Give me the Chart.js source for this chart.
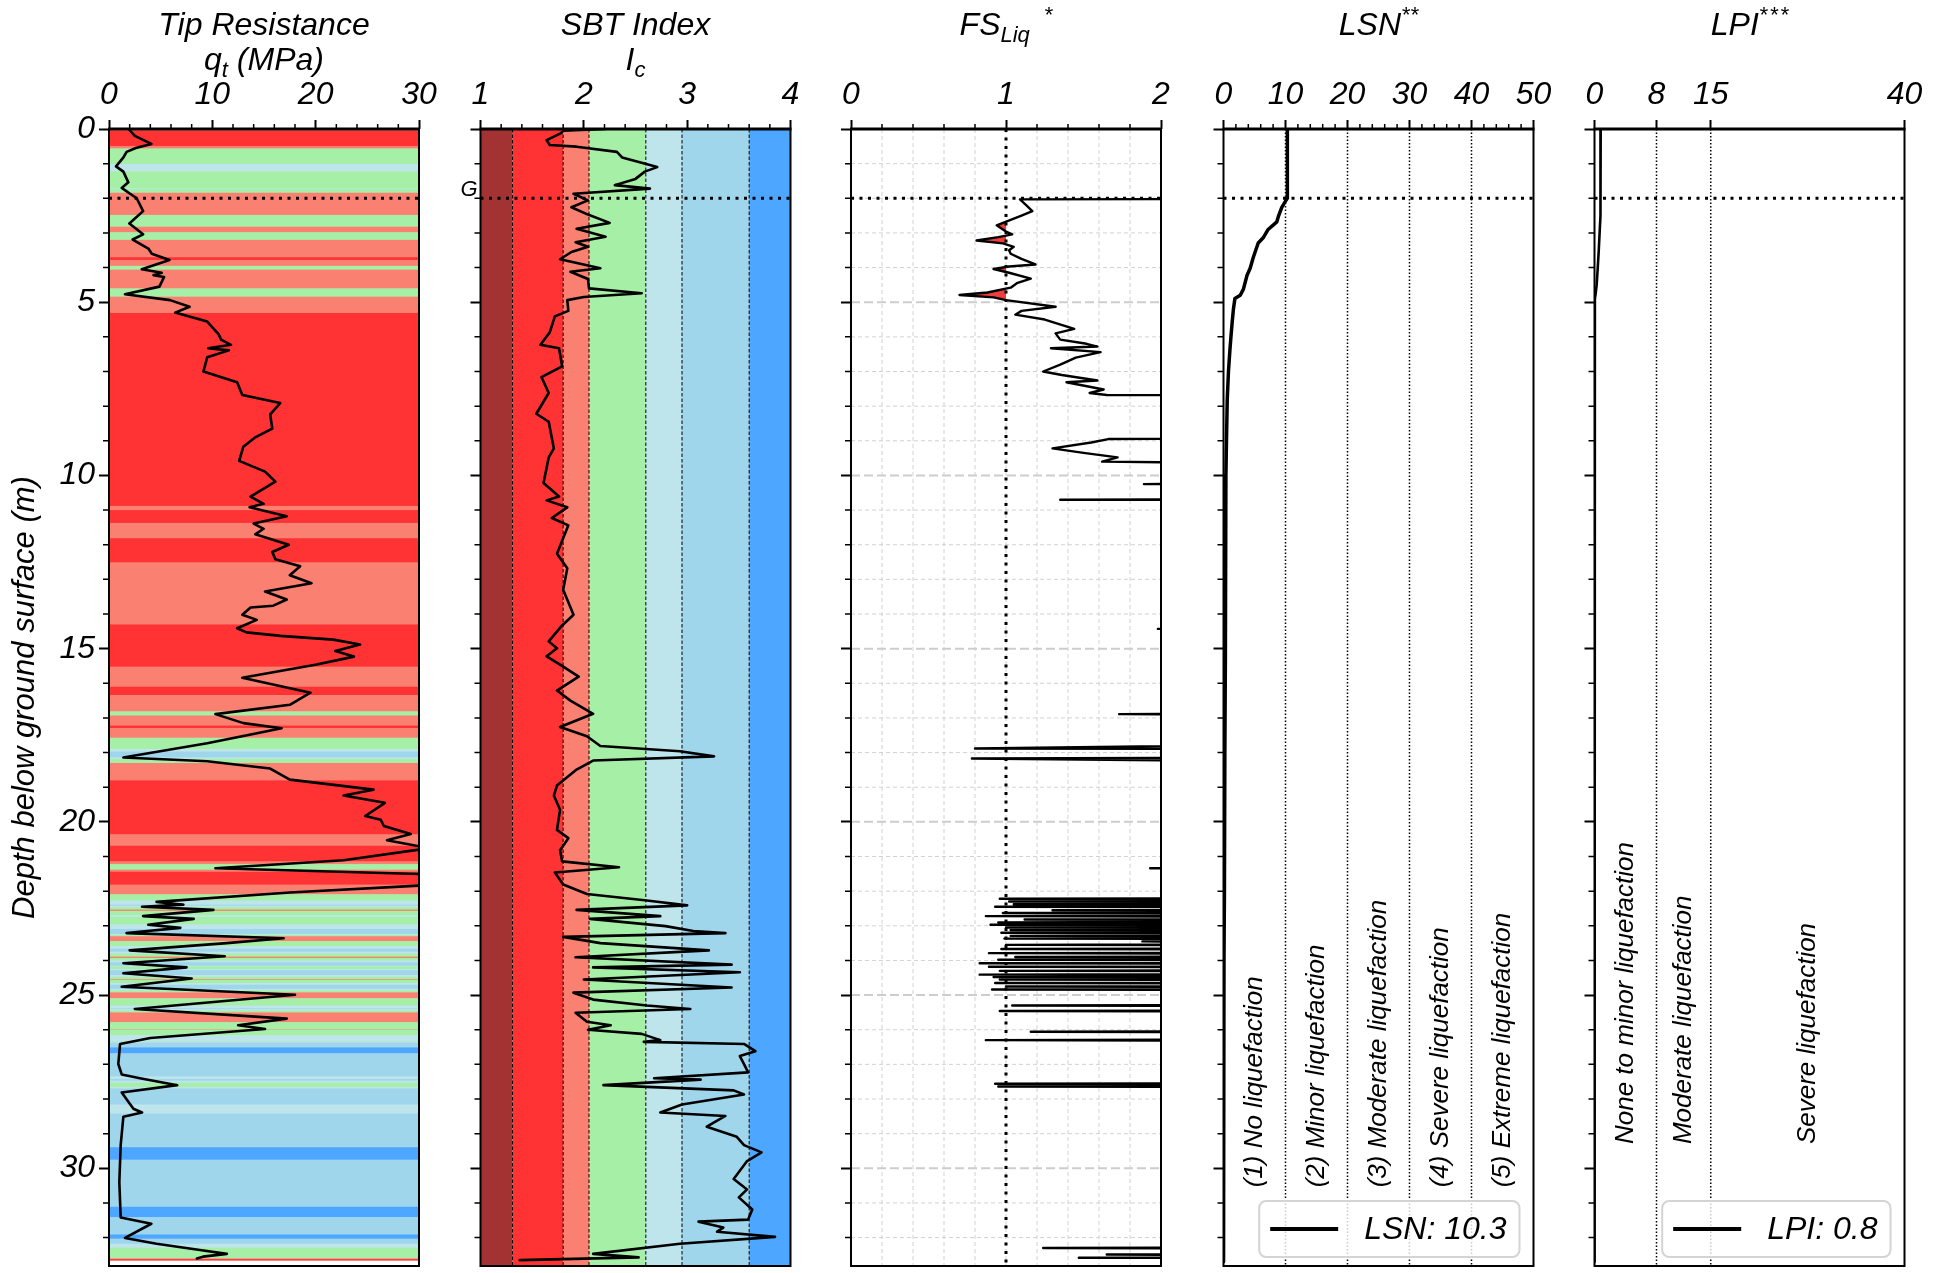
<!DOCTYPE html>
<html>
<head>
<meta charset="utf-8">
<script src="https://cdn.jsdelivr.net/npm/chart.js@4.4.1/dist/chart.umd.min.js"></script>
<style>
  html, body { margin: 0; padding: 0; background: #fff; overflow: hidden; }
  #wrap { position: relative; width: 1942px; height: 1273px; }
  #wrap canvas { position: absolute; left: 0; top: 0; }
</style>
</head>
<body>
<div id="wrap">
  <canvas id="p0" width="1942" height="1273"></canvas>
  <canvas id="p1" width="1942" height="1273"></canvas>
  <canvas id="p2" width="1942" height="1273"></canvas>
  <canvas id="p3" width="1942" height="1273"></canvas>
  <canvas id="p4" width="1942" height="1273"></canvas>
</div>
<script>
'use strict';

// ---- CPT profile data (depth in m) ----
const qtDepth = [0.0, 0.2, 0.43, 0.55, 0.66, 0.82, 1.08, 1.23, 1.54, 1.70, 1.87, 2.0, 2.37, 2.73, 3.04, 3.19, 3.45, 3.6, 3.78, 4.05,
  4.15, 4.22, 4.27, 4.55, 4.77, 4.94, 5.13, 5.3, 5.56, 5.92, 6.08, 6.23, 6.33, 6.39, 6.59, 7.0, 7.31, 7.68, 7.91, 8.24,
  8.65, 8.91, 9.17, 9.58, 9.89, 10.18, 10.61, 10.82, 10.92, 11.18, 11.39, 11.54, 11.7, 12.0, 12.21, 12.42, 12.62, 12.88, 13.11, 13.35,
  13.58, 13.76, 13.81, 14.02, 14.17, 14.41, 14.53, 14.63, 14.74, 14.88, 15.07, 15.23, 15.46, 15.84, 16.27, 16.62, 16.89, 17.15, 17.30, 17.52,
  17.73, 18.14, 18.25, 18.46, 18.78, 19.07, 19.24, 19.45, 19.83, 19.94, 20.12, 20.35, 20.53, 20.76, 21.11, 21.34, 21.52, 21.81, 22.04, 22.31,
  22.39, 22.45, 22.54, 22.72, 22.8, 22.97, 23.06, 23.21, 23.36, 23.5, 23.71, 23.88, 24.08, 24.2, 24.37, 24.52, 24.76, 24.99, 25.4, 25.68,
  25.87, 25.98, 26.24, 26.41, 26.99, 27.29, 27.4, 27.6, 27.81, 28.28, 28.39, 28.51, 29.33, 30.4, 31.42, 31.6, 32.01, 32.18, 32.36, 32.47,
  32.55, 32.6];
const qtValue = [1.9, 2.5, 4.1, 2.6, 1.7, 1.4, 0.68, 1.39, 1.87, 1.23, 2.04, 2.68, 3.3, 1.97, 3.3, 2.29, 3.81, 4.14, 5.85, 3.17,
  5.1, 4.3, 5.33, 4.88, 1.55, 5.9, 7.8, 6.4, 9.5, 10.6, 10.85, 11.8, 9.6, 11.6, 9.5, 9.14, 12.4, 12.9, 16.57, 15.6,
  15.8, 14.1, 13.0, 12.6, 15.1, 16.1, 13.7, 14.96, 13.6, 17.2, 14.0, 14.96, 14.15, 17.4, 15.8, 16.1, 18.5, 17.5, 19.6, 15.1,
  17.2, 15.9, 13.7, 12.9, 14.3, 12.4, 13.3, 16.6, 21.7, 24.3, 21.9, 23.7, 20.1, 12.9, 19.5, 17.5, 10.3, 13.0, 16.7, 13.0,
  9.5, 1.39, 9.5, 15.6, 17.5, 25.6, 22.7, 26.7, 24.8, 26.3, 26.6, 29.2, 26.9, 31.0, 22.7, 10.3, 32.0, 32.0, 17.5, 4.6,
  7.2, 3.2, 10.1, 3.3, 8.2, 3.8, 6.9, 1.7, 16.9, 11.4, 2.0, 11.2, 1.39, 7.5, 1.39, 8.0, 1.23, 18.0, 2.5, 17.2,
  12.5, 15.1, 4.0, 1.07, 0.9, 1.23, 3.0, 6.6, 1.23, 2.36, 3.2, 1.39, 1.13, 1.0, 1.13, 4.1, 1.55, 4.6, 8.8, 11.4,
  9.1, 8.5];

const icDepth = [0.0, 0.05, 0.12, 0.32, 0.46, 0.51, 0.66, 0.82, 0.97, 1.1, 1.23, 1.44, 1.62, 1.72, 1.87, 2.06, 2.26, 2.47, 2.71, 2.88,
  3.11, 3.27, 3.4, 3.55, 3.76, 4.02, 4.12, 4.33, 4.6, 4.74, 4.85, 4.94, 5.25, 5.41, 5.87, 6.23, 6.33, 6.85, 7.16, 7.62,
  8.22, 8.45, 9.22, 9.48, 10.22, 10.61, 10.72, 10.92, 11.23, 11.44, 12.26, 12.68, 13.3, 14.02, 14.33, 14.79, 14.99, 15.22, 15.46, 15.81,
  16.21, 16.5, 16.88, 17.26, 17.53, 17.81, 17.96, 18.11, 18.23, 18.49, 18.95, 19.24, 19.65, 20.23, 20.47, 20.82, 21.14, 21.31, 21.46, 21.81,
  22.08, 22.27, 22.41, 22.54, 22.72, 22.8, 23.01, 23.15, 23.21, 23.32, 23.5, 23.71, 23.91, 24.12, 24.2, 24.34, 24.55, 24.78, 24.93, 25.13,
  25.3, 25.4, 25.51, 25.77, 25.87, 26.0, 26.12, 26.3, 26.35, 26.41, 26.62, 26.76, 27.05, 27.23, 27.4, 27.44, 27.6, 27.75, 27.87, 28.16,
  28.39, 28.49, 28.8, 29.09, 29.33, 29.54, 29.79, 30.31, 30.61, 30.84, 31.19, 31.48, 31.54, 31.71, 31.83, 31.98, 32.18, 32.47, 32.57, 32.65];
const icValue = [2.21, 1.80, 1.78, 1.64, 1.67, 1.93, 2.32, 2.37, 2.55, 2.71, 2.59, 2.50, 2.30, 2.64, 1.90, 2.04, 1.88, 2.04, 2.25, 1.93,
  2.21, 1.92, 2.04, 1.88, 1.77, 2.16, 1.87, 2.04, 2.05, 2.56, 2.0, 1.84, 1.85, 1.72, 1.67, 1.58, 1.76, 1.79, 1.59, 1.66,
  1.54, 1.66, 1.71, 1.66, 1.61, 1.76, 1.64, 1.84, 1.69, 1.85, 1.74, 1.84, 1.80, 1.90, 1.79, 1.66, 1.74, 1.64, 1.77, 1.95,
  1.74, 1.87, 2.09, 1.77, 2.03, 2.16, 2.93, 3.26, 2.09, 1.93, 1.74, 1.71, 1.77, 1.74, 1.85, 1.77, 1.79, 2.34, 1.72, 1.80,
  2.03, 2.61, 3.0, 1.93, 2.74, 2.06, 2.79, 3.06, 3.37, 1.80, 2.16, 3.21, 1.92, 3.43, 2.09, 3.51, 2.0, 3.43, 1.90, 2.09,
  2.61, 3.03, 1.92, 2.03, 2.26, 2.04, 2.56, 2.74, 2.58, 3.55, 3.66, 3.51, 3.56, 3.59, 2.68, 3.13, 2.19, 3.45, 3.55, 2.95,
  2.74, 3.37, 3.19, 3.48, 3.55, 3.72, 3.58, 3.45, 3.58, 3.50, 3.63, 3.59, 3.11, 3.35, 3.29, 3.85, 2.93, 2.09, 2.53, 1.38];

// factor of safety against liquefaction; 5 stands for values beyond the plotted range
const fsDepth = [2.00, 2.03, 2.2, 2.37, 2.5, 2.62, 2.78, 2.9, 2.96, 3.04, 3.12, 3.22, 3.3, 3.4, 3.5, 3.6, 3.75, 3.91, 3.97, 4.04,
  4.15, 4.32, 4.45, 4.58, 4.72, 4.79, 4.86, 4.94, 5.13, 5.25, 5.36, 5.5, 5.77, 5.9, 6.08, 6.2, 6.28, 6.33, 6.44, 6.6,
  6.8, 7.0, 7.1, 7.26, 7.31, 7.52, 7.62, 7.68, 7.71, 8.91, 8.95, 9.05, 9.22, 9.35, 9.48, 9.6, 9.79, 10.215, 10.25, 10.285,
  10.665, 10.70, 10.735, 14.395, 14.43, 14.465, 16.855, 16.89, 16.925, 17.65, 17.88, 17.915, 18.12, 18.17, 18.35, 21.305, 21.34, 21.375,
  22.185, 22.22, 22.255, 22.265, 22.30, 22.335, 22.345, 22.38, 22.41, 22.42, 22.45, 22.485,
  22.515, 22.55, 22.585, 22.595, 22.63, 22.665, 22.685, 22.72, 22.755, 22.785, 22.82, 22.855,
  22.865, 22.90, 22.93, 22.94, 22.97, 23.005, 23.015, 23.05, 23.08, 23.09, 23.12, 23.155,
  23.165, 23.20, 23.235, 23.255, 23.29, 23.325, 23.335, 23.37, 23.405, 23.415, 23.45, 23.485,
  23.515, 23.55, 23.585, 23.635, 23.67, 23.705, 23.755, 23.79, 23.825, 23.865, 23.90, 23.935,
  23.945, 23.98, 24.015, 24.045, 24.08, 24.115, 24.145, 24.18, 24.215, 24.265, 24.30, 24.335,
  24.375, 24.41, 24.44, 24.45, 24.48, 24.51, 24.52, 24.55, 24.585, 24.615, 24.65, 24.685,
  24.715, 24.75, 24.785, 24.805, 24.84, 24.875, 25.265, 25.30, 25.335, 25.425, 25.46, 25.495,
  26.025, 26.06, 26.095, 26.265, 26.30, 26.335, 27.525, 27.56, 27.595, 27.605, 27.64, 27.675,
  32.265, 32.30, 32.335, 32.455, 32.49, 32.525, 32.545, 32.58, 32.615, 32.8];
const fsValue = [5, 1.09, 1.13, 1.17, 1.1, 1.03, 0.94, 0.98, 1.0, 1.04, 0.95, 0.81, 0.98, 1.05, 1.02, 1.03, 1.1, 1.19, 1.02, 0.92,
  1.02, 1.16, 1.07, 1.03, 0.88, 0.70, 0.92, 1.0, 1.32, 1.1, 1.06, 1.25, 1.44, 1.32, 1.35, 1.52, 1.59, 1.29, 1.61, 1.45,
  1.35, 1.24, 1.36, 1.59, 1.39, 1.63, 1.54, 1.65, 5, 5, 1.66, 1.55, 1.30, 1.5, 1.72, 1.62, 5, 5, 1.89, 5,
  5, 1.35, 5, 5, 1.98, 5, 5, 1.73, 5, 5, 0.80, 5, 5, 0.78, 5, 5, 1.93, 5,
  5, 0.96, 5, 5, 1.02, 5, 5, 1.05, 5, 5, 0.93, 5,
  5, 1.30, 5, 5, 0.98, 5, 5, 0.87, 5, 5, 1.12, 5,
  5, 0.95, 5, 5, 0.90, 5, 5, 1.00, 5, 5, 1.03, 5,
  5, 0.97, 5, 5, 1.03, 5, 5, 0.99, 5, 5, 1.88, 5,
  5, 1.00, 5, 5, 0.97, 5, 5, 0.89, 5, 5, 1.06, 5,
  5, 0.95, 5, 5, 0.83, 5, 5, 0.89, 5, 5, 0.96, 5,
  5, 0.83, 5, 5, 0.92, 5, 5, 0.96, 5, 5, 0.93, 5,
  5, 1.00, 5, 5, 0.91, 5, 5, 1.04, 5, 5, 0.96, 5,
  5, 1.16, 5, 5, 0.87, 5, 5, 0.93, 5, 5, 0.95, 5,
  5, 1.24, 5, 5, 1.65, 5, 5, 1.47, 5, 5];

const lsnDepth = [0, 2.0, 2.06, 2.26, 2.5, 2.68, 2.9, 3.14, 3.29, 3.5, 3.71, 4.02, 4.22, 4.63, 4.8, 4.89, 5.2, 5.56, 6.0, 6.39,
  7.0, 7.83, 9.0, 10.0, 12.0, 15.25, 18.0, 22.0, 24.0, 25.5, 26.5, 32.7];
const lsnValue = [10.3, 10.3, 10.08, 9.4, 8.9, 8.6, 7.2, 6.4, 5.6, 5.2, 4.8, 4.3, 3.8, 3.2, 2.7, 1.84, 1.6, 1.41, 1.2, 1.03,
  0.8, 0.6, 0.48, 0.39, 0.33, 0.28, 0.22, 0.15, 0.08, 0.02, 0, 0];

const lpiDepth = [0, 2.0, 2.5, 3.0, 3.5, 4.0, 4.5, 4.75, 4.9, 10, 20, 26, 32.7];
const lpiValue = [0.8, 0.8, 0.74, 0.66, 0.55, 0.42, 0.28, 0.15, 0.05, 0.03, 0.01, 0, 0];

// ---- axes and classes ----
const qtTicks = [0, 10, 20, 30];
const icTicks = [1, 2, 3, 4];
const fsTicks = [0, 1, 2];
const lsnTicks = [0, 10, 20, 30, 40, 50];
const lpiTicks = [0, 8, 15, 40];
const depthTicks = [0, 5, 10, 15, 20, 25, 30];

const gwDepth = 2.0;
const icBounds = [1.31, 1.80, 2.05, 2.60, 2.95, 3.60];
const icColors = ['#A33232', '#FF3333', '#FA8072', '#A6EFA6', '#BFE5EC', '#A0D6EC', '#4DA6FF'];
const lsnBounds = [10, 20, 30, 40];
const lsnLabels = ['(1) No liquefaction', '(2) Minor liquefaction', '(3) Moderate liquefaction',
  '(4) Severe liquefaction', '(5) Extreme liquefaction'];
const lsnLabelAt = [5, 15, 25, 35, 45];
const lpiBounds = [8, 15];
const lpiLabels = ['None to minor liquefaction', 'Moderate liquefaction', 'Severe liquefaction'];
const lpiLabelAt = [4, 11.5, 27.5];

// ---- layout ----
const W = 1942, H = 1273;
const PLOT_TOP = 129, PLOT_BOTTOM = 1266, PLOT_W = 310;
const PANEL_LEFT = [109, 480.5, 851, 1223.5, 1594.5];
const X_AXIS_H = 50;
const DEPTH_MAX = 32.82;
const FAMILY = "'Liberation Sans', Arial, Helvetica, sans-serif";
const tickFont = { family: FAMILY, size: 32, style: 'italic' };

function font(size) { return 'italic ' + size + 'px ' + FAMILY; }

function pts(depths, values) {
  return depths.map((d, i) => ({ x: values[i], y: d }));
}

// part of the FS profile lying left of FS = 1, with the crossing points added
function belowOne(depths, values) {
  const out = [];
  for (let i = 0; i < depths.length; i++) {
    out.push({ x: Math.min(values[i], 1), y: depths[i] });
    if (i + 1 < depths.length) {
      const v0 = values[i], v1 = values[i + 1];
      if ((v0 - 1) * (v1 - 1) < 0) {
        const t = (1 - v0) / (v1 - v0);
        out.push({ x: 1, y: depths[i] + t * (depths[i + 1] - depths[i]) });
      }
    }
  }
  return out;
}

// soil behaviour type class of an Ic value
function icClass(v) {
  let k = 0;
  while (k < icBounds.length && v >= icBounds[k]) k++;
  return k;
}

function icAt(d) {
  for (let i = 1; i < icDepth.length; i++) {
    if (d <= icDepth[i]) {
      const t = (d - icDepth[i - 1]) / (icDepth[i] - icDepth[i - 1]);
      return icValue[i - 1] + t * (icValue[i] - icValue[i - 1]);
    }
  }
  return icValue[icValue.length - 1];
}

// layers for the qt background, classified from the Ic profile
function soilBands() {
  const step = 0.01;
  const end = icDepth[icDepth.length - 1];
  const bands = [];
  for (let n = 0; n * step < end; n++) {
    const top = n * step, bottom = Math.min(end, top + step);
    const k = icClass(icAt(top + step / 2));
    const last = bands[bands.length - 1];
    if (last && last.k === k) last.bottom = bottom;
    else bands.push({ top: top, bottom: bottom, k: k });
  }
  return bands;
}

function dashedLine(ctx, x1, y1, x2, y2, width, dash, color) {
  ctx.save();
  ctx.strokeStyle = color || '#000';
  ctx.lineWidth = width;
  ctx.setLineDash(dash);
  ctx.lineCap = 'butt';
  ctx.beginPath();
  ctx.moveTo(x1, y1);
  ctx.lineTo(x2, y2);
  ctx.stroke();
  ctx.restore();
}

function groundWater(ctx, a, y) {
  const py = y.getPixelForValue(gwDepth);
  dashedLine(ctx, a.left, py, a.right, py, 3, [3, 5.5]);
}

function classLines(ctx, a, x, bounds) {
  bounds.forEach(b => {
    const px = x.getPixelForValue(b);
    dashedLine(ctx, px, a.top, px, a.bottom, 1.5, [1.5, 2]);
  });
}

function rotatedLabels(ctx, x, y, labels, at, depth) {
  ctx.save();
  ctx.fillStyle = '#000';
  ctx.font = font(26);
  ctx.textAlign = 'left';
  ctx.textBaseline = 'middle';
  labels.forEach((t, k) => {
    ctx.save();
    ctx.translate(x.getPixelForValue(at[k]), y.getPixelForValue(depth));
    ctx.rotate(-Math.PI / 2);
    ctx.fillText(t, 0, 0);
    ctx.restore();
  });
  ctx.restore();
}

function legendBox(ctx, a, text) {
  ctx.save();
  ctx.font = font(32);
  const tw = ctx.measureText(text).width;
  const w = 11 + 68 + 26 + tw + 13, h = 56;
  const right = a.right - 14, bottom = a.bottom - 9;
  const left = right - w, top = bottom - h;
  ctx.beginPath();
  ctx.roundRect(left, top, w, h, 7);
  ctx.fillStyle = 'rgba(255,255,255,0.8)';
  ctx.fill();
  ctx.strokeStyle = '#d4d4d4';
  ctx.lineWidth = 2;
  ctx.stroke();
  const cy = top + h / 2;
  ctx.strokeStyle = '#000';
  ctx.lineWidth = 4;
  ctx.beginPath();
  ctx.moveTo(left + 11, cy);
  ctx.lineTo(left + 79, cy);
  ctx.stroke();
  ctx.fillStyle = '#000';
  ctx.textAlign = 'left';
  ctx.textBaseline = 'middle';
  ctx.fillText(text, left + 105, cy + 1);
  ctx.restore();
}

function drawParts(ctx, parts, cx, base) {
  let total = 0;
  parts.forEach(p => {
    ctx.font = font(p.size);
    p.w = ctx.measureText(p.text).width;
    total += p.w + (p.gap || 0);
  });
  let px = cx - total / 2;
  ctx.fillStyle = '#000';
  ctx.textAlign = 'left';
  ctx.textBaseline = 'alphabetic';
  parts.forEach(p => {
    px += p.gap || 0;
    ctx.font = font(p.size);
    ctx.fillText(p.text, px, base + (p.dy || 0));
    px += p.w;
  });
}

const TITLES = [
  [[{ text: 'Tip Resistance', size: 32 }],
   [{ text: 'q', size: 32 }, { text: 't', size: 22, dy: 7 }, { text: ' (MPa)', size: 32 }]],
  [[{ text: 'SBT Index', size: 32 }],
   [{ text: 'I', size: 32 }, { text: 'c', size: 22, dy: 7 }]],
  [[{ text: 'FS', size: 32 }, { text: 'Liq', size: 22, dy: 7 }, { text: '*', size: 22, dy: -13, gap: 14 }]],
  [[{ text: 'LSN', size: 32 }, { text: '**', size: 22, dy: -13 }]],
  [[{ text: 'LPI', size: 32 }, { text: '*\u200A*\u200A*', size: 22, dy: -13 }]]
];

function decor(i, cfg) {
  return {
    id: 'decor' + i,
    beforeDatasetsDraw(chart) {
      const { ctx, chartArea: a, scales: { x, y } } = chart;
      ctx.save();
      if (cfg.background) cfg.background(ctx, a, x, y);
      ctx.restore();
    },
    afterDatasetsDraw(chart) {
      const { ctx, chartArea: a, scales: { x, y } } = chart;
      ctx.save();
      groundWater(ctx, a, y);
      if (cfg.overlay) cfg.overlay(ctx, a, x, y);
      ctx.restore();
    },
    afterDraw(chart) {
      const { ctx, chartArea: a, scales: { x, y } } = chart;
      ctx.save();
      ctx.strokeStyle = '#000';
      // frame
      ctx.lineWidth = 2;
      ctx.beginPath();
      ctx.moveTo(a.left, a.top); ctx.lineTo(a.left, a.bottom);
      ctx.lineTo(a.right, a.bottom); ctx.lineTo(a.right, a.top);
      ctx.stroke();
      ctx.lineWidth = 3;
      ctx.beginPath();
      ctx.moveTo(a.left - 1, a.top); ctx.lineTo(a.right + 1, a.top);
      ctx.stroke();
      // minor ticks
      ctx.lineWidth = 1.5;
      ctx.beginPath();
      if (cfg.minor) {
        for (let v = cfg.min; v <= cfg.max + 1e-9; v += cfg.minor) {
          if (cfg.ticks.some(t => Math.abs(t - v) < 1e-6)) continue;
          const px = x.getPixelForValue(v);
          ctx.moveTo(px, a.top); ctx.lineTo(px, a.top - 5);
        }
      }
      for (let d = 1; d < DEPTH_MAX; d++) {
        if (d % 5 === 0) continue;
        const py = y.getPixelForValue(d);
        ctx.moveTo(a.left, py); ctx.lineTo(a.left - 6, py);
      }
      ctx.stroke();
      // titles
      const cx = (a.left + a.right) / 2;
      TITLES[i].forEach((line, k) => drawParts(ctx, line, cx, 35 + k * 35));
      if (cfg.after) cfg.after(ctx, a, x, y);
      ctx.restore();
    }
  };
}

function makePanel(i, cfg) {
  const left = PANEL_LEFT[i];
  const yW = i === 0 ? 80 : 12;
  return new Chart(document.getElementById('p' + i), {
    type: 'line',
    data: { datasets: cfg.datasets },
    options: {
      responsive: false,
      animation: false,
      events: [],
      indexAxis: 'y',
      layout: {
        padding: { left: left - yW, right: W - left - PLOT_W, top: PLOT_TOP - X_AXIS_H, bottom: H - PLOT_BOTTOM }
      },
      elements: {
        point: { radius: 0, hoverRadius: 0 },
        line: { tension: 0, borderJoinStyle: 'round', borderCapStyle: 'round' }
      },
      plugins: { legend: { display: false }, tooltip: { enabled: false } },
      scales: {
        x: {
          type: 'linear', position: 'top', min: cfg.min, max: cfg.max,
          afterBuildTicks: s => { s.ticks = cfg.ticks.map(v => ({ value: v })); },
          afterFit: s => { s.height = X_AXIS_H; },
          ticks: { font: tickFont, color: '#000', padding: 6, maxRotation: 0, autoSkip: false, callback: v => String(v) },
          grid: { drawOnChartArea: false, tickLength: 9, tickWidth: 2, tickColor: '#000' },
          border: { display: false }
        },
        y: {
          type: 'linear', reverse: true, min: 0, max: DEPTH_MAX,
          afterBuildTicks: s => { s.ticks = depthTicks.map(v => ({ value: v })); },
          // keep the depth axis the same height in every panel
          afterFit: s => { s.width = yW; s.paddingTop = 0; s.paddingBottom = 0; },
          ticks: { display: i === 0, font: tickFont, color: '#000', padding: 4, autoSkip: false, callback: v => String(v) },
          grid: { drawOnChartArea: false, tickLength: 10, tickWidth: 2, tickColor: '#000' },
          border: { display: false }
        }
      }
    },
    plugins: [decor(i, cfg)]
  });
}

const bands = soilBands();

// Tip resistance with soil class layers behind it
makePanel(0, {
  min: 0, max: 30, ticks: qtTicks, minor: 2,
  datasets: [{ data: pts(qtDepth, qtValue), borderColor: '#000', borderWidth: 2.6, fill: false }],
  background(ctx, a, x, y) {
    bands.forEach(b => {
      const y1 = y.getPixelForValue(b.top), y2 = y.getPixelForValue(b.bottom);
      ctx.fillStyle = icColors[b.k];
      ctx.fillRect(a.left, y1, a.right - a.left, y2 - y1 + 0.5);
    });
  },
  after(ctx, a) {
    ctx.save();
    ctx.translate(25, (a.top + a.bottom) / 2);
    ctx.rotate(-Math.PI / 2);
    ctx.font = font(31);
    ctx.fillStyle = '#000';
    ctx.textAlign = 'center';
    ctx.textBaseline = 'middle';
    ctx.fillText('Depth below ground surface (m)', 0, 0);
    ctx.restore();
  }
});

// SBT index over the classification columns
makePanel(1, {
  min: 1, max: 4, ticks: icTicks, minor: 0.2,
  datasets: [{ data: pts(icDepth, icValue), borderColor: '#000', borderWidth: 2.6, fill: false }],
  background(ctx, a, x) {
    const edges = [1].concat(icBounds, [4]);
    for (let k = 0; k < icColors.length; k++) {
      const x1 = x.getPixelForValue(edges[k]), x2 = x.getPixelForValue(edges[k + 1]);
      ctx.fillStyle = icColors[k];
      ctx.fillRect(x1, a.top, x2 - x1, a.bottom - a.top);
    }
    icBounds.forEach(b => {
      const px = x.getPixelForValue(b);
      dashedLine(ctx, px, a.top, px, a.bottom, 1, [3.5, 2]);
    });
  },
  overlay(ctx, a, x, y) {
    ctx.font = font(22);
    ctx.fillStyle = '#000';
    ctx.textAlign = 'right';
    ctx.textBaseline = 'alphabetic';
    ctx.fillText('G', a.left - 3, y.getPixelForValue(gwDepth) - 2);
  }
});

// factor of safety, red where it drops below 1
makePanel(2, {
  min: 0, max: 2, ticks: fsTicks, minor: 0.2,
  datasets: [
    { data: pts(fsDepth, fsValue), borderColor: '#000', borderWidth: 2.4, fill: false, order: 0 },
    { data: belowOne(fsDepth, fsValue), borderWidth: 0, borderColor: 'rgba(0,0,0,0)',
      backgroundColor: '#F03C3C', fill: { value: 1 }, order: 1 }
  ],
  background(ctx, a, x, y) {
    for (let v = 0.2; v < 2; v += 0.2) {
      const px = x.getPixelForValue(v);
      dashedLine(ctx, px, a.top, px, a.bottom, 1, [4, 3], '#d2d2d2');
    }
    for (let d = 1; d < DEPTH_MAX; d++) {
      const py = y.getPixelForValue(d);
      if (d % 5 === 0) dashedLine(ctx, a.left, py, a.right, py, 2, [9, 4], '#cdcdcd');
      else dashedLine(ctx, a.left, py, a.right, py, 1, [4, 3], '#d2d2d2');
    }
  },
  overlay(ctx, a, x) {
    const px = x.getPixelForValue(1);
    dashedLine(ctx, px, a.top, px, a.bottom, 3, [3, 5.5]);
  }
});

// liquefaction severity number
makePanel(3, {
  min: 0, max: 50, ticks: lsnTicks, minor: 2,
  datasets: [{ data: pts(lsnDepth, lsnValue), borderColor: '#000', borderWidth: 3.5, fill: false }],
  background(ctx, a, x, y) {
    classLines(ctx, a, x, lsnBounds);
    rotatedLabels(ctx, x, y, lsnLabels, lsnLabelAt, 30.55);
  },
  after(ctx, a) {
    legendBox(ctx, a, 'LSN: ' + lsnValue[0].toFixed(1));
  }
});

// liquefaction potential index
makePanel(4, {
  min: 0, max: 40, ticks: lpiTicks, minor: 0,
  datasets: [{ data: pts(lpiDepth, lpiValue), borderColor: '#000', borderWidth: 2.6, fill: false }],
  background(ctx, a, x, y) {
    classLines(ctx, a, x, lpiBounds);
    rotatedLabels(ctx, x, y, lpiLabels, lpiLabelAt, 29.3);
  },
  after(ctx, a) {
    legendBox(ctx, a, 'LPI: ' + lpiValue[0].toFixed(1));
  }
});
</script>
</body>
</html>
